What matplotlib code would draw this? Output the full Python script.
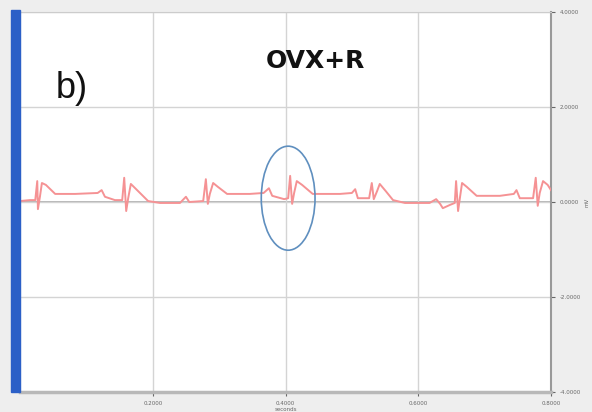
import matplotlib
matplotlib.use("Agg")
import matplotlib.pyplot as plt
from matplotlib.patches import Ellipse, Rectangle

# ECG trace (seconds, mV)
time_s = [0.000, 0.015, 0.023, 0.026, 0.027, 0.030, 0.033, 0.039, 0.053, 0.083, 0.117, 0.123, 0.128, 0.143, 0.154,
          0.157, 0.160, 0.163, 0.167, 0.175, 0.193, 0.211, 0.241, 0.250, 0.255, 0.276,
          0.280, 0.283, 0.286, 0.291, 0.298, 0.312, 0.346, 0.367, 0.375, 0.380, 0.398, 0.404,
          0.407, 0.410, 0.413, 0.417, 0.425, 0.441, 0.482, 0.500, 0.505, 0.509, 0.526,
          0.530, 0.533, 0.538, 0.542, 0.551, 0.562, 0.580, 0.617, 0.627, 0.633, 0.637, 0.648, 0.655,
          0.657, 0.660, 0.663, 0.666, 0.673, 0.688, 0.723, 0.744, 0.748, 0.753, 0.773,
          0.777, 0.780, 0.783, 0.788, 0.795, 0.800]
volts = [0.02, 0.04, 0.04, 0.44, -0.15, 0.11, 0.40, 0.36, 0.17, 0.17, 0.19, 0.25, 0.11, 0.04, 0.04,
         0.51, -0.19, 0.08, 0.38, 0.27, 0.02, -0.02, -0.02, 0.11, 0.00, 0.02,
         0.48, -0.04, 0.17, 0.40, 0.32, 0.17, 0.17, 0.19, 0.29, 0.13, 0.06, 0.08,
         0.55, -0.04, 0.19, 0.44, 0.36, 0.17, 0.17, 0.19, 0.27, 0.08, 0.08,
         0.40, 0.06, 0.23, 0.38, 0.23, 0.04, -0.02, -0.02, 0.06, -0.04, -0.13, -0.06, -0.02,
         0.44, -0.19, 0.11, 0.40, 0.32, 0.13, 0.13, 0.17, 0.25, 0.08, 0.08,
         0.51, -0.08, 0.19, 0.44, 0.36, 0.25]

x_ticks = [0.2, 0.4, 0.6, 0.8]
x_labels = ["0.2000", "0.4000", "0.6000", "0.8000"]
y_ticks = [-4, -2, 0, 2, 4]
y_labels = ["-4.0000", "-2.0000", "0.0000", "2.0000", "4.0000"]

# highlighted beat
circle_center = (0.404, 0.08)
circle_w, circle_h = 0.081, 2.19

fig = plt.figure(figsize=(5.92, 4.12), dpi=100)
fig.patch.set_facecolor("#eeeeee")
ax = fig.add_axes([20 / 592, 20 / 412, 531 / 592, 380 / 412])
ax.set_facecolor("white")

ax.set_xlim(0, 0.8)
ax.set_ylim(-4, 4)
ax.set_xticks(x_ticks)
ax.set_xticklabels(x_labels)
ax.set_yticks(y_ticks)
ax.set_yticklabels(y_labels)
ax.yaxis.tick_right()
ax.yaxis.set_label_position("right")
ax.tick_params(axis="both", labelsize=4, colors="#666666", length=3, width=0.8)
ax.set_xlabel("seconds", fontsize=4, color="#666666", labelpad=1)
ax.set_ylabel("mV", fontsize=4, color="#666666", labelpad=2)

ax.grid(True, color="#d4d4d4", linewidth=1)
ax.axhline(0, color="#a0a0a0", linewidth=1.1, zorder=1)
for side in ["top", "left"]:
    ax.spines[side].set_color("#cccccc")
ax.spines["bottom"].set_color("#b8b8b8")
ax.spines["bottom"].set_linewidth(2.5)
ax.spines["right"].set_color("#999999")
ax.spines["right"].set_linewidth(1.5)

ax.plot(time_s, volts, color="#f59294", linewidth=1.4, zorder=3)

ax.add_patch(Ellipse(circle_center, circle_w, circle_h, fill=False,
                     edgecolor="#5f8fbf", linewidth=1.2, zorder=4))

ax.text(0.078, 2.4, "b)", fontsize=26, family="Liberation Sans",
        ha="center", va="center", color="#111111")
ax.text(0.445, 2.97, "OVX+R", fontsize=18, fontweight="bold",
        ha="center", va="center", color="#111111")

# blue strip on the left edge of the panel
fig.patches.append(Rectangle((11 / 592, 20 / 412), 9 / 592, 382 / 412,
                             transform=fig.transFigure, color="#2b5fc7", zorder=5))

fig.savefig("out.png", dpi=100, facecolor=fig.get_facecolor())
